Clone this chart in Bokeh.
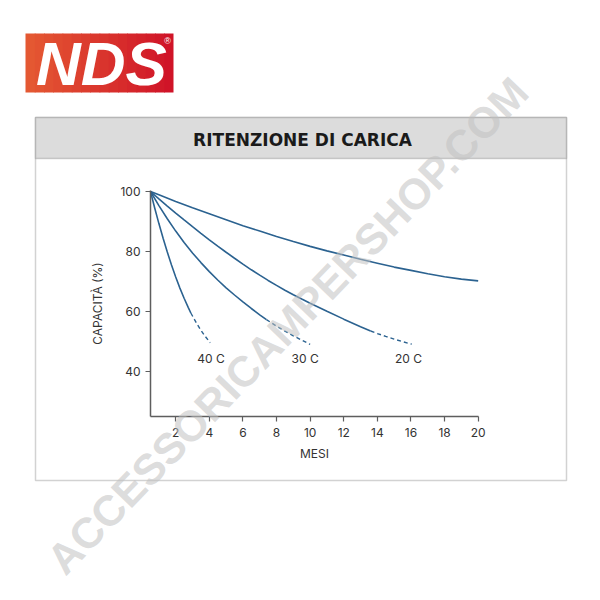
from bokeh.plotting import figure
from bokeh.models import Label, BoxAnnotation, Range1d, FixedTicker
from bokeh.core.properties import value
from bokeh.embed import file_html
from bokeh.resources import INLINE

# ---------------- data ----------------
title_text = "RITENZIONE DI CARICA"
x_label = "MESI"
y_label = "CAPACITÀ (%)"
x_ticks = [2, 4, 6, 8, 10, 12, 14, 16, 18, 20]
y_ticks = [40, 60, 80, 100]

# unlabeled top curve
mesi_top = [0.5, 1, 2, 3, 4, 5, 6, 7, 8, 9, 10, 11, 12, 13, 14, 15, 16, 17, 18, 19, 20]
cap_top = [100, 98.9, 96.7, 94.6, 92.6, 90.6, 88.6, 86.8, 85.0, 83.3, 81.7,
           80.2, 78.8, 77.4, 76.1, 74.8, 73.7, 72.6, 71.6, 70.8, 70.2]

# 20 C
mesi_20 = [0.5, 1, 1.5, 2, 2.5, 3, 3.5, 4, 4.5, 5, 5.5, 6, 6.5, 7, 7.5, 8, 8.5,
           9, 9.5, 10, 11, 12, 13, 13.6]
cap_20 = [100, 97.55, 95.15, 92.8, 90.5, 88.25, 86.05, 83.9, 81.8, 79.75, 77.75,
          75.8, 73.9, 72.1, 70.35, 68.7, 67.1, 65.6, 64.15, 62.75, 60.05, 57.45,
          54.95, 53.5]
mesi_20_est = [13.6, 14, 14.5, 15, 15.5, 16.05]
cap_20_est = [53.5, 52.65, 51.7, 50.8, 49.95, 49.1]

# 30 C
mesi_30 = [0.5, 1, 1.5, 2, 2.5, 3, 3.5, 4, 4.5, 5, 5.5, 6, 6.5, 7, 7.4]
cap_30 = [100, 95.3, 90.9, 86.8, 83.0, 79.5, 76.3, 73.3, 70.5, 67.9, 65.5,
          63.2, 61.0, 58.9, 57.3]
mesi_30_est = [7.4, 8, 8.5, 9, 9.5, 10.0]
cap_30_est = [57.3, 55.1, 53.45, 51.9, 50.45, 49.05]

# 40 C
mesi_40 = [0.5, 0.75, 1.0, 1.25, 1.5, 1.75, 2.0, 2.25, 2.5, 2.75, 2.9]
cap_40 = [100, 94.5, 89.3, 84.4, 79.8, 75.5, 71.5, 67.8, 64.4, 61.3, 59.5]
mesi_40_est = [2.9, 3.25, 3.5, 3.75, 4.05]
cap_40_est = [59.5, 56.0, 53.75, 51.75, 49.6]

curve_labels = ["40 C", "30 C", "20 C"]
curve_label_x = [4.1, 9.7, 15.85]
curve_label_y = [44.3, 44.3, 44.3]

# ---------------- layout constants (pixels) ----------------
W = H = 584
AX_LEFT_PX, AX_RIGHT_PX = 150, 478     # x = 0.5 .. 20.02
AX_TOP_PX, AX_BOTTOM_PX = 190, 416     # y = 100.33 .. 25
X0, X1 = 0.5, 20.02
Y0, Y1 = 25.0, 100.33
kx = (AX_RIGHT_PX - AX_LEFT_PX) / (X1 - X0)
ky = (AX_BOTTOM_PX - AX_TOP_PX) / (Y1 - Y0)
xr = Range1d(X0 - AX_LEFT_PX / kx, X0 + (W - AX_LEFT_PX) / kx)
yr = Range1d(Y0 - (H - AX_BOTTOM_PX) / ky, Y1 + AX_TOP_PX / ky)

LINE = "#2b6290"
TXT = "#333333"
FONT = "Inter"

p = figure(width=W, height=H, x_range=xr, y_range=yr,
           output_backend="svg", toolbar_location=None, min_border=0)
p.title.visible = False
p.outline_line_color = None
p.xgrid.visible = False
p.ygrid.visible = False
p.background_fill_color = "white"
p.border_fill_color = "white"

def cbox(l, r, t, b, **kw):
    return BoxAnnotation(left=l, right=r, top=t, bottom=b,
                         left_units="canvas", right_units="canvas",
                         top_units="canvas", bottom_units="canvas", **kw)

# ---- logo ----
n_strips = 16
c0 = (228, 88, 50)
c1 = (208, 20, 40)
lx0, lx1 = 25, 173
for i in range(n_strips):
    t = i / (n_strips - 1)
    col = "#%02x%02x%02x" % tuple(int(round(a + (b - a) * t)) for a, b in zip(c0, c1))
    l = lx0 + (lx1 - lx0) * i / n_strips
    r = min(lx0 + (lx1 - lx0) * (i + 1) / n_strips + 0.8, lx1)
    p.add_layout(cbox(l, r, 33, 92, fill_color=col, fill_alpha=1, line_color=None,
                      level="underlay"))
p.add_layout(Label(x=101, y=63, x_units="canvas", y_units="canvas", text="NDS",
                   text_color="white", text_font="Liberation Sans",
                   text_font_style="bold italic", text_font_size="62px",
                   text_align="center", text_baseline="middle"))
p.add_layout(Label(x=167, y=40, x_units="canvas", y_units="canvas", text="®",
                   text_color="white", text_font="Liberation Sans",
                   text_font_size="9px", text_align="center", text_baseline="middle"))

# ---- outer box and header band ----
p.add_layout(cbox(35, 566, 117, 480, fill_alpha=0, line_color="#6a6a6a",
                  line_width=1.5, level="underlay"))
p.add_layout(cbox(35, 566, 117, 158, fill_color="#dcdcdc", fill_alpha=1,
                  line_color="#6a6a6a", line_width=1.5, level="underlay"))
p.add_layout(Label(x=302, y=139, x_units="canvas", y_units="canvas", text=title_text,
                   text_color="#1a1a1a", text_font="DejaVu Sans",
                   text_font_style="bold", text_font_size="17px",
                   text_align="center", text_baseline="middle"))

# ---- curves ----
for xs, ys in [(mesi_top, cap_top), (mesi_20, cap_20), (mesi_30, cap_30), (mesi_40, cap_40)]:
    p.line(xs, ys, line_color=LINE, line_width=1.6)
for xs, ys in [(mesi_20_est, cap_20_est), (mesi_30_est, cap_30_est), (mesi_40_est, cap_40_est)]:
    p.line(xs, ys, line_color=LINE, line_width=1.4, line_dash="4 3")

p.text(x=curve_label_x, y=curve_label_y, text=curve_labels,
       text_font=value(FONT), text_font_size="12px", text_color=TXT,
       text_align="center", text_baseline="middle")

# ---- axes (fixed inside the full-canvas frame) ----
p.xaxis.ticker = FixedTicker(ticks=x_ticks)
p.yaxis.ticker = FixedTicker(ticks=y_ticks)
p.xaxis.fixed_location = Y0
p.yaxis.fixed_location = X0
p.xaxis.bounds = (X0, X1)
p.yaxis.bounds = (Y0, Y1)
for ax in (p.xaxis[0], p.yaxis[0]):
    ax.axis_line_color = "#5e5e5e"
    ax.axis_line_width = 1.5
    ax.major_tick_line_color = "#5e5e5e"
    ax.major_tick_line_width = 1.2
    ax.major_tick_in = 0
    ax.major_tick_out = 5
    ax.minor_tick_line_color = None
    ax.major_label_text_font = FONT
    ax.major_label_text_font_size = "12px"
    ax.major_label_text_color = TXT
    ax.axis_label_text_font = FONT
    ax.axis_label_text_font_size = "12px"
    ax.axis_label_text_font_style = "normal"
    ax.axis_label_text_color = TXT
p.xaxis.axis_label = x_label
p.yaxis.axis_label = y_label
p.xaxis.major_label_standoff = 6
p.yaxis.major_label_standoff = 5
p.xaxis.axis_label_standoff = 6
p.yaxis.axis_label_standoff = 12

# ---- watermark ----
p.add_layout(Label(x=287, y=325, x_units="canvas", y_units="canvas",
                   text="ACCESSORICAMPERSHOP.COM", angle=46, angle_units="deg",
                   text_color="#c0c0c0", text_alpha=0.55,
                   text_font="Liberation Sans", text_font_style="bold",
                   text_font_size="43px", text_align="center", text_baseline="middle"))

open("out.html", "w").write(file_html(p, INLINE))
